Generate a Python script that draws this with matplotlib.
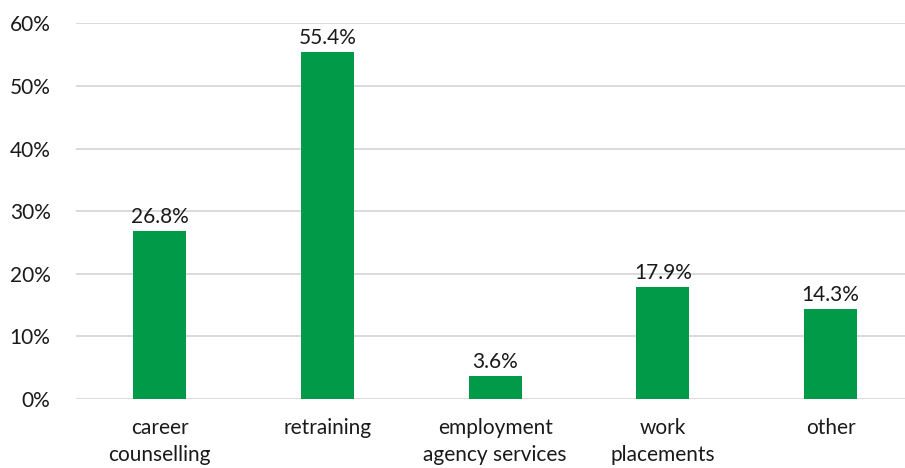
import matplotlib
matplotlib.use('Agg')
import matplotlib.pyplot as plt
from matplotlib.ticker import PercentFormatter

categories = ['career\ncounselling', 'retraining', 'employment\nagency services',
              'work\nplacements', 'other']
values = [26.8, 55.4, 3.6, 17.9, 14.3]
yticks = [0, 10, 20, 30, 40, 50, 60]

plt.rcParams['font.family'] = ['Lato', 'DejaVu Sans']

fig = plt.figure(figsize=(9.05, 4.68), dpi=100)
ax = fig.add_axes([75.6 / 905, 69 / 468, 839 / 905, 375.7 / 468])

x = range(len(categories))
bars = ax.bar(x, values, width=0.316, color='#009A49', zorder=3)
for b, v in zip(bars, values):
    ax.text(b.get_x() + b.get_width() / 2, v + 0.7, f'{v:.1f}%',
            ha='center', va='bottom', fontsize=15, color='#1a1a1a')

ax.set_xlim(-0.5, len(categories) - 0.5)
ax.set_ylim(0, 60)
ax.set_yticks(yticks)
ax.yaxis.set_major_formatter(PercentFormatter(decimals=0))
ax.set_xticks(list(x))
ax.set_xticklabels(categories, linespacing=1.4)
ax.tick_params(axis='both', length=0, labelsize=15, labelcolor='#1a1a1a')
ax.tick_params(axis='x', pad=14)
ax.tick_params(axis='y', pad=18)

ax.yaxis.grid(True, color='#D4D4D4', linewidth=1.2, zorder=0)
for s in ax.spines.values():
    s.set_visible(False)

fig.savefig('out.png', dpi=100)
